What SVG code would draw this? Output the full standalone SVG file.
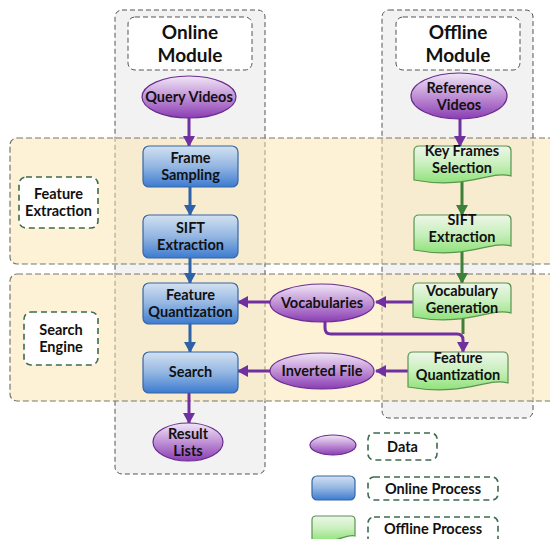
<svg xmlns="http://www.w3.org/2000/svg" width="550" height="539" viewBox="0 0 550 539">
  <defs>
    <style>
      .t { font-family: Lato, "Open Sans", "Liberation Sans", sans-serif; font-weight: bold; font-size: 14.5px; fill: #111; text-anchor: middle; }
      .h { font-size: 19px; }
      .module { fill: #f2f2f2; stroke: #555; stroke-width: 1; stroke-dasharray: 5 3; }
      .modlabel { fill: #fff; stroke: #555; stroke-width: 1; stroke-dasharray: 5 3; }
      .band { fill: #fbe3ad; fill-opacity: 0.5; stroke: #777; stroke-width: 1.2; stroke-dasharray: 6 3; }
      .grplabel { fill: #fff; stroke: #3d6b4f; stroke-width: 1.6; stroke-dasharray: 6 4; }
      .data { fill: url(#gPurple); stroke: #6a2c8e; stroke-width: 1.2; }
      .online { fill: url(#gBlue); stroke: #3566a6; stroke-width: 1.2; }
      .offline { fill: url(#gGreen); stroke: #5a9450; stroke-width: 1.2; }
      .ap { fill: none; stroke: #7030a0; stroke-width: 3; }
      .ab { fill: none; stroke: #2e62a8; stroke-width: 3; }
      .ag { fill: none; stroke: #3e7f3a; stroke-width: 3; }
    </style>
    <linearGradient id="gPurple" x1="0" y1="0" x2="0" y2="1">
      <stop offset="0" stop-color="#f0e6f6"/>
      <stop offset="0.45" stop-color="#c59ad9"/>
      <stop offset="1" stop-color="#8a3db3"/>
    </linearGradient>
    <linearGradient id="gBlue" x1="0" y1="0" x2="0" y2="1">
      <stop offset="0" stop-color="#d3e1f1"/>
      <stop offset="0.5" stop-color="#93b6e2"/>
      <stop offset="1" stop-color="#3d7bd0"/>
    </linearGradient>
    <linearGradient id="gGreen" x1="0" y1="0" x2="0" y2="1">
      <stop offset="0" stop-color="#eef6ea"/>
      <stop offset="0.5" stop-color="#c8efbc"/>
      <stop offset="1" stop-color="#8fe27a"/>
    </linearGradient>
    <marker id="mP" markerUnits="userSpaceOnUse" markerWidth="12" markerHeight="12" refX="10" refY="6" orient="auto">
      <path d="M0,0 L11,6 L0,12 Z" fill="#7030a0"/>
    </marker>
    <marker id="mB" markerUnits="userSpaceOnUse" markerWidth="12" markerHeight="12" refX="10" refY="6" orient="auto">
      <path d="M0,0 L11,6 L0,12 Z" fill="#2e62a8"/>
    </marker>
    <marker id="mG" markerUnits="userSpaceOnUse" markerWidth="12" markerHeight="12" refX="10" refY="6" orient="auto">
      <path d="M0,0 L11,6 L0,12 Z" fill="#3e7f3a"/>
    </marker>
  </defs>

  <!-- module containers -->
  <g id="online-module">
    <rect class="module" x="115" y="10" width="150" height="464" rx="7"/>
    <rect class="modlabel" x="128" y="17" width="124" height="53" rx="7"/>
    <text class="t h" x="190" y="39">Online</text>
    <text class="t h" x="190" y="62">Module</text>
  </g>
  <g id="offline-module">
    <rect class="module" x="382" y="10" width="151" height="408" rx="7"/>
    <rect class="modlabel" x="396" y="17" width="124" height="53" rx="7"/>
    <text class="t h" x="458" y="39">Offline</text>
    <text class="t h" x="458" y="62">Module</text>
  </g>

  <!-- stage bands -->
  <g id="feature-extraction-band">
    <rect class="band" x="10" y="138" width="560" height="126" rx="7"/>
    <rect class="grplabel" x="19" y="177" width="79" height="51" rx="7"/>
    <text class="t" x="58.5" y="199">Feature</text>
    <text class="t" x="58.5" y="216">Extraction</text>
  </g>
  <g id="search-engine-band">
    <rect class="band" x="10" y="274" width="560" height="127" rx="7"/>
    <rect class="grplabel" x="24" y="312" width="74" height="53" rx="7"/>
    <text class="t" x="61" y="335">Search</text>
    <text class="t" x="61" y="352">Engine</text>
  </g>

  <!-- connectors -->
  <g id="connectors">
    <line class="ap" x1="189" y1="118" x2="189" y2="146" marker-end="url(#mP)"/>
    <line class="ab" x1="190" y1="187" x2="190" y2="215" marker-end="url(#mB)"/>
    <line class="ab" x1="190" y1="258" x2="190" y2="283" marker-end="url(#mB)"/>
    <line class="ab" x1="190" y1="324" x2="190" y2="352" marker-end="url(#mB)"/>
    <line class="ap" x1="189" y1="393" x2="189" y2="423" marker-end="url(#mP)"/>

    <line class="ap" x1="460" y1="119" x2="460" y2="146" marker-end="url(#mP)"/>
    <line class="ag" x1="462" y1="181" x2="462" y2="215" marker-end="url(#mG)"/>
    <line class="ag" x1="462" y1="251" x2="462" y2="283" marker-end="url(#mG)"/>
    <line class="ag" x1="463" y1="318" x2="463" y2="334"/>

    <line class="ap" x1="413" y1="302" x2="376" y2="302" marker-end="url(#mP)"/>
    <line class="ap" x1="270" y1="302" x2="238" y2="302" marker-end="url(#mP)"/>
    <path class="ap" d="M325,321 L325,328 Q325,334 331,334 L457,334 Q463,334 463,340 L463,352" marker-end="url(#mP)"/>
    <line class="ap" x1="408" y1="371" x2="376" y2="371" marker-end="url(#mP)"/>
    <line class="ap" x1="270" y1="371" x2="238" y2="371" marker-end="url(#mP)"/>
  </g>

  <!-- data nodes -->
  <g id="query-videos">
    <ellipse class="data" cx="189" cy="97" rx="47" ry="21"/>
    <text class="t" x="189" y="102">Query Videos</text>
  </g>
  <g id="reference-videos">
    <ellipse class="data" cx="459" cy="96" rx="48" ry="23"/>
    <text class="t" x="459" y="93">Reference</text>
    <text class="t" x="459" y="110">Videos</text>
  </g>
  <g id="vocabularies">
    <ellipse class="data" cx="322" cy="303" rx="52" ry="19"/>
    <text class="t" x="322" y="308">Vocabularies</text>
  </g>
  <g id="inverted-file">
    <ellipse class="data" cx="322" cy="371" rx="52" ry="18"/>
    <text class="t" x="322" y="376">Inverted File</text>
  </g>
  <g id="result-lists">
    <ellipse class="data" cx="188" cy="442" rx="35" ry="19"/>
    <text class="t" x="188" y="439">Result</text>
    <text class="t" x="188" y="456">Lists</text>
  </g>

  <!-- online processes -->
  <g id="frame-sampling">
    <rect class="online" x="143" y="146" width="95" height="41" rx="6"/>
    <text class="t" x="190.5" y="163">Frame</text>
    <text class="t" x="190.5" y="180">Sampling</text>
  </g>
  <g id="sift-extraction-online">
    <rect class="online" x="143" y="215" width="95" height="43" rx="6"/>
    <text class="t" x="190.5" y="233">SIFT</text>
    <text class="t" x="190.5" y="250">Extraction</text>
  </g>
  <g id="feature-quantization-online">
    <rect class="online" x="143" y="283" width="95" height="41" rx="6"/>
    <text class="t" x="190.5" y="300">Feature</text>
    <text class="t" x="190.5" y="317">Quantization</text>
  </g>
  <g id="search">
    <rect class="online" x="143" y="352" width="95" height="41" rx="6"/>
    <text class="t" x="190.5" y="377">Search</text>
  </g>

  <!-- offline processes (document shapes) -->
  <g id="key-frames-selection">
    <path class="offline" d="M419,146 L506,146 Q511,146 511,151 L511,176 C490,170 468,190 414,180 L414,151 Q414,146 419,146 Z"/>
    <text class="t" x="462" y="156">Key Frames</text>
    <text class="t" x="462" y="173">Selection</text>
  </g>
  <g id="sift-extraction-offline">
    <path class="offline" d="M419,215 L506,215 Q511,215 511,220 L511,246 C490,240 468,260 414,250 L414,220 Q414,215 419,215 Z"/>
    <text class="t" x="462" y="225">SIFT</text>
    <text class="t" x="462" y="242">Extraction</text>
  </g>
  <g id="vocabulary-generation">
    <path class="offline" d="M418,283 L506,283 Q511,283 511,288 L511,313 C490,307 468,327 413,317 L413,288 Q413,283 418,283 Z"/>
    <text class="t" x="462" y="296">Vocabulary</text>
    <text class="t" x="462" y="313">Generation</text>
  </g>
  <g id="feature-quantization-offline">
    <path class="offline" d="M413,352 L503,352 Q508,352 508,357 L508,383 C487,377 465,397 408,387 L408,357 Q408,352 413,352 Z"/>
    <text class="t" x="458" y="363">Feature</text>
    <text class="t" x="458" y="380">Quantization</text>
  </g>

  <!-- legend -->
  <g id="legend-data">
    <ellipse class="data" cx="333" cy="445" rx="23" ry="10"/>
    <rect class="grplabel" x="368" y="433" width="69" height="27" rx="6"/>
    <text class="t" x="402.5" y="452">Data</text>
  </g>
  <g id="legend-online">
    <rect class="online" x="312" y="476" width="43" height="24" rx="5"/>
    <rect class="grplabel" x="368" y="477" width="130" height="23" rx="6"/>
    <text class="t" x="433" y="494">Online Process</text>
  </g>
  <g id="legend-offline">
    <path class="offline" d="M316,516 L351,516 Q355,516 355,520 L355,536 C346,533 336,545 312,540 L312,520 Q312,516 316,516 Z"/>
    <rect class="grplabel" x="368" y="517" width="130" height="30" rx="6"/>
    <text class="t" x="433" y="534">Offline Process</text>
  </g>
</svg>
